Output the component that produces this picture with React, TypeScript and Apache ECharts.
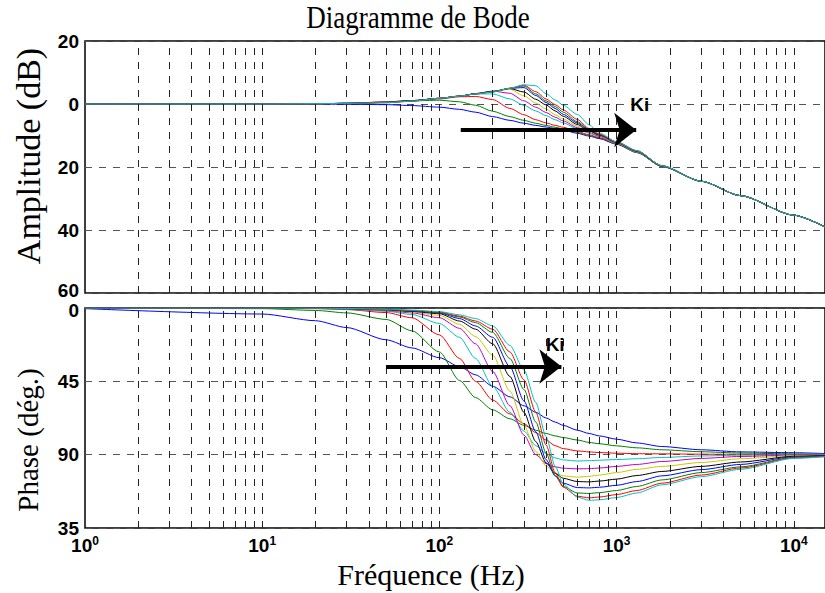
import React, { useEffect, useRef } from "react";
import * as echarts from "echarts";

// Frequencies (Hz) at which the curves were read
const FREQ = [1, 10, 20, 30, 50, 70, 100, 130, 160, 200, 250, 300, 350, 400, 450, 500, 600, 700, 800, 1000, 1300, 1800, 3000, 5000, 10000, 15000];

// Amplitude (dB), one array per Ki value (low -> high)
const AMP_1 = [0, 0, 0, -0.1, -0.2, -0.5, -1.0, -1.7, -2.6, -4.0, -5.2, -6.1, -6.8, -7.3, -7.8, -8.3, -9.3, -10.2, -11.0, -12.8, -15.4, -19.8, -24.5, -29.1, -35.3, -39.0];
const AMP_2 = [0, 0, 0.1, 0.2, 0.6, 1.0, 1.2, 0.7, -0.4, -2.3, -4.0, -5.2, -6.1, -6.8, -7.4, -7.9, -9.0, -10.0, -10.8, -12.7, -15.4, -19.8, -24.5, -29.1, -35.3, -39.0];
const AMP_3 = [0, 0, 0.1, 0.2, 0.7, 1.1, 1.6, 2.3, 2.4, 1.4, -1.4, -3.4, -5.0, -6.0, -6.8, -7.4, -8.7, -9.8, -10.7, -12.6, -15.3, -19.8, -24.5, -29.1, -35.3, -39.0];
const AMP_4 = [0, 0, 0.1, 0.2, 0.6, 1.1, 1.7, 2.5, 3.2, 3.2, 1.6, -0.4, -2.2, -3.7, -5.0, -6.0, -7.9, -9.3, -10.4, -12.5, -15.3, -19.8, -24.5, -29.1, -35.3, -39.0];
const AMP_5 = [0, 0, 0.1, 0.2, 0.6, 1.1, 1.8, 2.5, 3.3, 4.1, 3.4, 1.0, -1.0, -2.7, -4.2, -5.4, -7.5, -9.0, -10.2, -12.4, -15.2, -19.7, -24.5, -29.1, -35.3, -39.0];
const AMP_6 = [0, 0, 0.1, 0.2, 0.5, 1.0, 1.8, 2.5, 3.3, 4.0, 4.7, 2.6, 0.3, -1.6, -3.4, -4.8, -7.0, -8.7, -10.0, -12.3, -15.1, -19.7, -24.5, -29.1, -35.3, -39.0];
const AMP_7 = [0, 0, 0.1, 0.2, 0.5, 1.0, 1.8, 2.5, 3.3, 4.0, 4.9, 3.8, 1.5, -0.3, -2.2, -3.9, -6.5, -8.5, -9.9, -12.2, -15.0, -19.7, -24.5, -29.1, -35.3, -39.0];
const AMP_8 = [0, 0, 0.1, 0.2, 0.5, 1.0, 1.8, 2.5, 3.2, 3.9, 5.0, 5.2, 2.7, 0.5, -1.4, -3.3, -6.0, -8.3, -9.8, -12.1, -14.9, -19.6, -24.5, -29.1, -35.3, -39.0];
const AMP_9 = [0, 0, 0.1, 0.2, 0.5, 1.0, 1.8, 2.5, 3.2, 3.9, 5.0, 5.7, 3.2, 1.0, -0.8, -2.6, -5.6, -8.1, -9.7, -12.1, -14.9, -19.6, -24.5, -29.1, -35.3, -39.0];
const AMP_10 = [0, 0, 0.1, 0.2, 0.4, 0.9, 1.8, 2.5, 3.2, 3.8, 5.0, 6.0, 3.9, 1.6, -0.2, -1.9, -4.9, -7.8, -9.6, -12.0, -14.8, -19.6, -24.5, -29.1, -35.3, -39.0];
const AMP_11 = [0, 0, 0.1, 0.2, 0.4, 0.9, 1.8, 2.5, 3.2, 3.8, 5.0, 6.1, 5.8, 3.3, 1.3, -0.4, -3.3, -6.6, -9.2, -12.0, -14.8, -19.6, -24.5, -29.1, -35.3, -39.0];

// Phase (degrees), one array per Ki value (low -> high)
const PHASE_1 = [-0.4, -3.7, -7.8, -12, -19.5, -24.5, -30.5, -36, -41, -48, -54.5, -60, -64, -67.5, -70, -72, -75, -77, -78.5, -80.5, -82.8, -85, -87, -88.3, -88.8, -89.3];
const PHASE_2 = [0, -0.4, -1.5, -3, -7, -14, -27, -44.5, -55, -62.5, -68, -72, -75, -77, -78.5, -79.5, -81, -82.5, -83.3, -84.6, -85.8, -87, -88.2, -89, -89.5, -89.8];
const PHASE_3 = [0, -0.1, -0.4, -1, -2.8, -6, -16.5, -31, -45, -56.5, -65, -71, -76.5, -81, -84.5, -86.3, -87.7, -88.3, -88.7, -89.1, -89.4, -89.5, -89.7, -89.8, -89.9, -90];
const PHASE_4 = [0, -0.1, -0.3, -0.8, -2, -4, -9.5, -18, -31, -48, -64, -75.5, -84.5, -89.3, -92, -93.2, -93.9, -93.7, -93.4, -93, -92.5, -91.7, -90.8, -90.3, -90.1, -90];
const PHASE_5 = [0, -0.1, -0.2, -0.6, -1.6, -3, -6, -12.5, -22, -39, -60, -78, -90, -95.5, -97.5, -98.3, -98.7, -98.6, -98.2, -97.2, -96, -94.2, -92.3, -91.1, -90.3, -90.1];
const PHASE_6 = [0, -0.1, -0.2, -0.5, -1.3, -2.5, -4.5, -10, -17.5, -29, -51, -72, -88, -97, -101.5, -103, -103.8, -103.3, -102.5, -101, -99, -97.2, -94.8, -92.5, -90.6, -90.3];
const PHASE_7 = [0, -0.1, -0.2, -0.4, -1.1, -2.1, -3.5, -8, -13, -22, -42, -64, -82, -95, -101.5, -104.5, -106.5, -106.7, -106.2, -105, -102.8, -100.3, -97.2, -94.5, -91, -90.5];
const PHASE_8 = [0, 0, -0.1, -0.4, -1, -1.9, -3, -6.5, -11, -18, -36, -57, -76, -93, -103, -107.5, -110.2, -110.4, -110, -108.8, -106.5, -103, -99.2, -96, -91.3, -90.7];
const PHASE_9 = [0, 0, -0.1, -0.3, -0.9, -1.7, -2.8, -5.5, -9, -15, -31, -50, -70, -89, -103, -109.5, -113.5, -113.8, -113.3, -112, -109.5, -105.5, -101, -97.5, -91.6, -90.9];
const PHASE_10 = [0, 0, -0.1, -0.3, -0.8, -1.5, -2.5, -5, -8, -13, -27, -44, -64, -84, -101, -110, -115.5, -116.5, -116, -114.5, -112, -107.5, -102.5, -98.2, -92, -91.1];
const PHASE_11 = [0, 0, -0.1, -0.3, -0.7, -1.3, -2.2, -4.2, -6.5, -11, -23, -38, -58, -79, -97, -108, -116, -118, -117.7, -116.3, -113.5, -108.5, -103.5, -99, -92.3, -91.3];

const AMP_SERIES = [AMP_1, AMP_2, AMP_3, AMP_4, AMP_5, AMP_6, AMP_7, AMP_8, AMP_9, AMP_10, AMP_11];
const PHASE_SERIES = [PHASE_1, PHASE_2, PHASE_3, PHASE_4, PHASE_5, PHASE_6, PHASE_7, PHASE_8, PHASE_9, PHASE_10, PHASE_11];
const COLORS = ["#0000FF", "#008000", "#FF0000", "#00C0C0", "#C000C0", "#C8C800", "#000000", "#0000FF", "#008000", "#FF0000", "#00C0C0"];

// Axis ticks and their printed labels (as they appear in the figure)
const AMP_TICKS = [20, 0, -20, -40, -60];
const AMP_TICK_LABELS = ["20", "0", "20", "40", "60"];
const PHASE_TICKS = [0, -45, -90, -135];
const PHASE_TICK_LABELS = ["0", "45", "90", "35"];
const GRID_FREQ = [2, 3, 4, 5, 6, 7, 8, 9, 10, 20, 30, 40, 50, 60, 70, 80, 90, 100, 200, 300, 400, 500, 600, 700, 800, 900, 1000, 2000, 3000, 4000, 5000, 6000, 7000, 8000, 9000, 10000];

// Ki arrows (frequency from/to, level)
const ARROW_AMP = { from: 132, to: 1290, level: -8.25 };
const ARROW_PHASE = { from: 50, to: 488, level: -35.9 };
const KI_AMP = [1352, -0.3];
const KI_PHASE = [450, -22.3];

export default function App() {
  const ref = useRef<HTMLDivElement>(null);
  useEffect(() => {
    if (!ref.current) return;
    const chart = echarts.init(ref.current, null, { renderer: "svg" });
    const tickFont = { fontFamily: "Liberation Sans, Arial, sans-serif", fontWeight: "bold" as const, fontSize: 19, color: "#000" };
    const vGrid = {
      silent: true,
      symbol: ["none", "none"],
      label: { show: false },
      lineStyle: { type: [7, 7], color: "#222", width: 1 },
      data: GRID_FREQ.map((f) => ({ xAxis: f })),
    };
    const arrowLine = (a: { from: number; to: number; level: number }) => ({
      silent: true,
      symbol: ["none", "arrow"],
      symbolSize: [26, 22],
      label: { show: false },
      lineStyle: { type: "solid", color: "#000", width: 4 },
      itemStyle: { color: "#000" },
      data: [[{ coord: [a.from, a.level] }, { coord: [a.to, a.level] }]],
    });
    const kiPoint = (c: number[]) => ({
      silent: true,
      symbol: "rect",
      symbolSize: 0,
      label: { show: true, position: "inside", formatter: "Ki", ...tickFont },
      data: [{ coord: c }],
    });
    const series: any[] = [];
    AMP_SERIES.forEach((arr, i) => {
      series.push({
        type: "line",
        xAxisIndex: 0,
        yAxisIndex: 0,
        data: FREQ.map((f, j) => [f, arr[j]]),
        showSymbol: false,
        smooth: 0.25,
        smoothMonotone: "x",
        color: COLORS[i],
        lineStyle: { width: 1, color: COLORS[i] },
        z: 3 + i * 0.01,
        markLine: i === 0 ? vGrid : undefined,
      });
    });
    PHASE_SERIES.forEach((arr, i) => {
      series.push({
        type: "line",
        xAxisIndex: 1,
        yAxisIndex: 1,
        data: FREQ.map((f, j) => [f, arr[j]]),
        showSymbol: false,
        smooth: 0.25,
        smoothMonotone: "x",
        color: COLORS[i],
        lineStyle: { width: 1, color: COLORS[i] },
        z: 3 + i * 0.01,
        markLine: i === 0 ? vGrid : undefined,
      });
    });
    series.push({ type: "line", xAxisIndex: 0, yAxisIndex: 0, data: [], z: 10, markLine: arrowLine(ARROW_AMP), markPoint: kiPoint(KI_AMP) });
    series.push({ type: "line", xAxisIndex: 1, yAxisIndex: 1, data: [], z: 10, markLine: arrowLine(ARROW_PHASE), markPoint: kiPoint(KI_PHASE) });

    const xLabelFormatter = (v: number) => {
      const e = Math.round(Math.log10(v));
      if (Math.abs(Math.pow(10, e) - v) > 1e-6 * v) return "";
      return `{b|10}{s|${e}}`;
    };

    chart.setOption({
      animation: false,
      backgroundColor: "#fff",
      grid: [
        { left: 85, top: 41, height: 252, right: -3, show: true, borderColor: "#000", borderWidth: 1.5, backgroundColor: "transparent" },
        { left: 85, top: 308, height: 220, right: -3, show: true, borderColor: "#000", borderWidth: 1.5, backgroundColor: "transparent" },
      ],
      xAxis: [
        { gridIndex: 0, type: "log", logBase: 10, min: 1, max: 15000, axisLabel: { show: false }, axisTick: { show: false }, axisLine: { show: false }, splitLine: { show: false } },
        {
          gridIndex: 1, type: "log", logBase: 10, min: 1, max: 15000,
          axisTick: { show: false }, axisLine: { show: false }, splitLine: { show: false },
          axisLabel: {
            formatter: xLabelFormatter,
            margin: 7,
            showMaxLabel: false,
            rich: {
              b: { ...tickFont, lineHeight: 20, verticalAlign: "bottom" },
              s: { ...tickFont, fontSize: 12, lineHeight: 20, verticalAlign: "top" },
            },
          },
        },
      ],
      yAxis: [
        {
          gridIndex: 0, type: "value", min: -60, max: 20, interval: 20,
          axisLine: { show: false }, axisTick: { show: false },
          axisLabel: {
            ...tickFont, margin: 6,
            formatter: (v: number) => {
              const t = AMP_TICK_LABELS[AMP_TICKS.indexOf(v)] ?? "";
              return v === -60 ? `{up|${t}}` : t;
            },
            rich: { up: { ...tickFont, padding: [0, 0, 5, 0] } },
          },
          splitLine: { show: true, lineStyle: { type: [7, 7], color: "#555", width: 1 } },
        },
        {
          gridIndex: 1, type: "value", min: -135, max: 0, interval: 45,
          axisLine: { show: false }, axisTick: { show: false },
          axisLabel: {
            ...tickFont, margin: 6,
            formatter: (v: number) => {
              const t = PHASE_TICK_LABELS[PHASE_TICKS.indexOf(v)] ?? "";
              return v === 0 ? `{dn|${t}}` : t;
            },
            rich: { dn: { ...tickFont, padding: [5, 0, 0, 0] } },
          },
          splitLine: { show: true, lineStyle: { type: [7, 7], color: "#555", width: 1 } },
        },
      ],
      graphic: [
        { type: "text", x: 418, y: 17, scaleY: 1.2, style: { text: "Diagramme de Bode", font: '27px "Liberation Serif", "Times New Roman", serif', fill: "#000", textAlign: "center", textVerticalAlign: "middle" } },
        { type: "text", x: 28, y: 156, rotation: Math.PI / 2, style: { text: "Amplitude (dB)", font: '34px "Liberation Serif", "Times New Roman", serif', fill: "#000", textAlign: "center", textVerticalAlign: "middle" } },
        { type: "text", x: 28, y: 440, rotation: Math.PI / 2, style: { text: "Phase (dég.)", font: '29px "Liberation Serif", "Times New Roman", serif', fill: "#000", textAlign: "center", textVerticalAlign: "middle" } },
        { type: "text", x: 431, y: 574, style: { text: "Fréquence (Hz)", font: '30px "Liberation Serif", "Times New Roman", serif', fill: "#000", textAlign: "center", textVerticalAlign: "middle" } },
      ],
      series,
    });
    return () => chart.dispose();
  }, []);
  return <div ref={ref} style={{ position: "absolute", left: 0, top: 0, width: 825, height: 593, background: "#fff" }} />;
}
